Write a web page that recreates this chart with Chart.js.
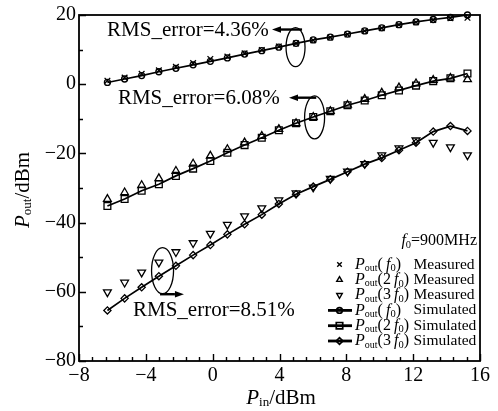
<!DOCTYPE html>
<html><head><meta charset="utf-8">
<script src="https://cdn.jsdelivr.net/npm/chart.js@4.4.0/dist/chart.umd.min.js"></script>
<style>html,body{margin:0;padding:0;background:#fff}</style>
</head><body>
<canvas id="c" width="498" height="411"></canvas>
<script>
// ---- data ----
const pinValues = [-6.3, -5.27, -4.25, -3.22, -2.2, -1.17, -0.14, 0.88, 1.91, 2.94, 3.96, 4.99, 6.02, 7.04, 8.07, 9.1, 10.12, 11.15, 12.17, 13.2, 14.23, 15.25];
const measF0  = [1.0, 1.9, 3.0, 4.0, 5.0, 6.1, 7.3, 8.0, 8.9, 9.9, 10.9, 11.8, 12.7, 13.5, 14.4, 15.4, 16.2, 17.2, 17.9, 18.6, 19.1, 19.2];
const meas2F0 = [-33.2, -31.3, -29.2, -27.2, -25.1, -23.0, -20.7, -18.8, -16.9, -15.0, -13.0, -11.3, -9.5, -7.8, -6.0, -4.3, -2.5, -1.0, 0.2, 1.2, 1.8, 1.4];
const meas3F0 = [-60.1, -57.3, -54.4, -51.5, -48.5, -45.9, -43.2, -40.6, -38.1, -35.8, -33.5, -31.5, -29.8, -27.3, -25.2, -23.0, -20.5, -18.5, -16.2, -16.9, -18.2, -20.5];
const simF0   = [0.5, 1.5, 2.5, 3.6, 4.6, 5.6, 6.6, 7.6, 8.7, 9.7, 10.7, 11.8, 12.8, 13.6, 14.5, 15.4, 16.3, 17.2, 18.0, 18.7, 19.3, 20.0];
const sim2F0  = [-35.2, -33.2, -30.8, -28.9, -26.5, -24.4, -22.2, -19.8, -17.6, -15.5, -13.3, -11.3, -9.5, -7.8, -6.1, -4.7, -3.2, -1.8, -0.4, 0.9, 1.7, 3.1];
const sim3F0  = [-65.4, -61.9, -58.7, -55.5, -52.5, -49.4, -46.5, -43.4, -40.5, -37.7, -34.6, -31.8, -29.6, -27.5, -25.3, -23.1, -21.3, -19.1, -16.9, -13.7, -12.1, -13.5];
const xTicksMajor = [-8, -4, 0, 4, 8, 12, 16];
const yTicksMajor = [-80, -60, -40, -20, 0, 20];
const rmsLabels = ['RMS_error=4.36%', 'RMS_error=6.08%', 'RMS_error=8.51%'];
// annotation anchors in data units
const rmsTextPos = [[-6.32, 15.4], [-5.67, -4.2], [-4.77, -65.4]];
const rmsArrow = [[5.35, 3.55, 15.8], [6.2, 4.57, -3.9], [-3.15, -1.72, -60.7]]; // tail x, tip x, y
const rmsEllipse = [[4.96, 10.7, 9.5, 19.5], [6.1, -9.6, 10, 21.5], [-3.0, -53.9, 11, 23]];

const SERIF = "'Liberation Serif','Times New Roman',serif";
const toXY = arr => arr.map((v, i) => ({x: pinValues[i], y: v}));
const none = 'rgba(0,0,0,0)';

const mk = (label, data, style, radius, showLine, rot) => ({
  label, data: toXY(data), showLine, borderColor: '#000', borderWidth: showLine ? 1.7 : 0,
  pointStyle: style, pointRadius: radius, pointRotation: rot || 0,
  pointBorderColor: '#000', pointBackgroundColor: none, pointBorderWidth: 1.3,
  backgroundColor: none, fill: false, tension: 0, clip: false
});

const datasets = [
  mk('Pout(f0) Simulated', simF0, 'circle', 3, true),
  mk('Pout(2f0) Simulated', sim2F0, 'rect', 4.8, true),
  mk('Pout(3f0) Simulated', sim3F0, 'rectRot', 3.6, true),
  mk('Pout(f0) Measured', measF0, 'crossRot', 4, false),
  mk('Pout(2f0) Measured', meas2F0, 'triangle', 4.5, false),
  mk('Pout(3f0) Measured', meas3F0, 'triangle', 4.5, false, 180),
];

function drawRich(ctx, parts, x, y, align) {
  let w = 0;
  parts.forEach(p => { ctx.font = (p.it ? 'italic ' : '') + p.s + 'px ' + SERIF; p.w = ctx.measureText(p.t).width; w += p.w; });
  let cx = align === 'center' ? x - w / 2 : (align === 'right' ? x - w : x);
  ctx.textAlign = 'left'; ctx.textBaseline = 'middle';
  parts.forEach(p => { ctx.font = (p.it ? 'italic ' : '') + p.s + 'px ' + SERIF; ctx.fillText(p.t, cx, y + (p.dy || 0)); cx += p.w; });
}

const deco = {
  id: 'deco',
  afterDraw(chart) {
    const ctx = chart.ctx, a = chart.chartArea, xs = chart.scales.x, ys = chart.scales.y;
    ctx.save();
    ctx.strokeStyle = '#000'; ctx.fillStyle = '#000';
    // box
    ctx.lineWidth = 1.8;
    ctx.strokeRect(a.left, a.top, a.right - a.left, a.bottom - a.top);
    // inward ticks
    ctx.lineWidth = 1.4;
    ctx.beginPath();
    for (let v = -8; v <= 16.001; v += 0.8) {
      const px = Math.round(xs.getPixelForValue(v)) + 0.5;
      const major = xTicksMajor.some(t => Math.abs(t - v) < 0.01);
      ctx.moveTo(px, a.bottom); ctx.lineTo(px, a.bottom - (major ? 7 : 4));
    }
    for (let v = -80; v <= 20; v += 10) {
      const py = Math.round(ys.getPixelForValue(v)) + 0.5;
      const major = yTicksMajor.includes(v);
      ctx.moveTo(a.left, py); ctx.lineTo(a.left + (major ? 7 : 4), py);
    }
    ctx.stroke();
    // annotations
    for (let i = 0; i < 3; i++) {
      ctx.font = '21px ' + SERIF; ctx.textAlign = 'left'; ctx.textBaseline = 'middle';
      ctx.fillText(rmsLabels[i], xs.getPixelForValue(rmsTextPos[i][0]), ys.getPixelForValue(rmsTextPos[i][1]));
      const e = rmsEllipse[i];
      ctx.lineWidth = 1.3;
      ctx.beginPath();
      ctx.ellipse(xs.getPixelForValue(e[0]), ys.getPixelForValue(e[1]), e[2], e[3], 0, 0, Math.PI * 2);
      ctx.stroke();
      const ar = rmsArrow[i];
      const tx = xs.getPixelForValue(ar[0]), hx = xs.getPixelForValue(ar[1]), ay = ys.getPixelForValue(ar[2]);
      const dir = Math.sign(hx - tx), hl = 9;
      ctx.lineWidth = 2.4;
      ctx.beginPath(); ctx.moveTo(tx, ay); ctx.lineTo(hx - dir * hl, ay); ctx.stroke();
      ctx.beginPath(); ctx.moveTo(hx, ay); ctx.lineTo(hx - dir * hl, ay - 3.2); ctx.lineTo(hx - dir * hl, ay + 3.2); ctx.closePath(); ctx.fill();
    }
    // axis titles
    drawRich(ctx, [{t: 'P', s: 21, it: true}, {t: 'in', s: 13, dy: 5}, {t: '/dBm', s: 21}], 281, 398, 'center');
    ctx.save();
    ctx.translate(23, 190); ctx.rotate(-Math.PI / 2);
    drawRich(ctx, [{t: 'P', s: 21, it: true}, {t: 'out', s: 13, dy: 5}, {t: '/dBm', s: 21}], 0, 0, 'center');
    ctx.restore();
    // legend
    const R = a.right;
    drawRich(ctx, [{t: 'f', s: 16, it: true}, {t: '0', s: 10.5, dy: 4}, {t: '=900MHz', s: 16}], R - 3, 241, 'right');
    const rows = [
      {ds: 3, k: '', kind: 'Measured'}, {ds: 4, k: '2\u2009', kind: 'Measured'}, {ds: 5, k: '3\u2009', kind: 'Measured'},
      {ds: 0, k: '', kind: 'Simulated'}, {ds: 1, k: '2\u2009', kind: 'Simulated'}, {ds: 2, k: '3\u2009', kind: 'Simulated'}
    ];
    const mx = R - 140.5;
    rows.forEach((r, i) => {
      const y = 264.5 + i * 15.3;
      const d = datasets[r.ds];
      if (d.showLine) {
        ctx.lineWidth = 2.8;
        ctx.beginPath(); ctx.moveTo(R - 152, y); ctx.lineTo(R - 128, y); ctx.stroke();
      }
      ctx.lineWidth = d.showLine ? 1.7 : 1.4;
      ctx.fillStyle = none;
      Chart.helpers.drawPoint(ctx, {pointStyle: d.pointStyle, radius: d.showLine ? d.pointRadius * 0.95 : 3.2, rotation: d.pointRotation, borderWidth: 1}, mx, y);
      ctx.fillStyle = '#000';
      drawRich(ctx, [{t: 'P', s: 16, it: true}, {t: 'out', s: 10, dy: 4}, {t: '(' + (r.k === '' ? '\u2009' : '') + r.k, s: 16}, {t: 'f', s: 16, it: true}, {t: '0', s: 10.5, dy: 4}, {t: ')', s: 16}], R - 125, y, 'left');
      ctx.font = '15.5px ' + SERIF; ctx.textAlign = 'left'; ctx.textBaseline = 'middle';
      ctx.fillText(r.kind, R - 66.5, y);
    });
    ctx.restore();
  }
};

new Chart(document.getElementById('c'), {
  type: 'line',
  data: {datasets},
  options: {
    responsive: false, animation: false, devicePixelRatio: 1,
    layout: {padding: {top: 14, right: 18, left: 0, bottom: 0}},
    plugins: {legend: {display: false}, tooltip: {enabled: false}},
    scales: {
      x: {
        type: 'linear', min: -8, max: 16,
        grid: {display: false, drawTicks: false}, border: {display: false},
        ticks: {stepSize: 4, color: '#000', padding: 3, maxRotation: 0, autoSkip: false,
          font: {family: SERIF, size: 20}, callback: v => String(v).replace('-', '\u2212')},
        afterFit: s => { s.height = 50; }
      },
      y: {
        type: 'linear', min: -80, max: 20,
        grid: {display: false, drawTicks: false}, border: {display: false},
        ticks: {stepSize: 20, color: '#000', padding: 3, autoSkip: false,
          font: {family: SERIF, size: 20}, callback: v => String(v).replace('-', '\u2212')},
        afterFit: s => { s.width = 79; }
      }
    }
  },
  plugins: [deco]
});
</script>
</body></html>
